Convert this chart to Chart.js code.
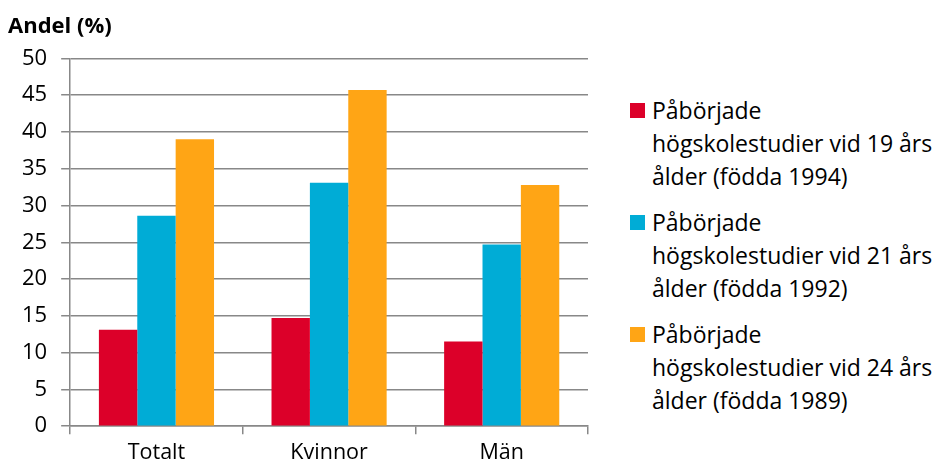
<!DOCTYPE html>
<html>
<head>
<meta charset="utf-8">
<script src="https://cdn.jsdelivr.net/npm/chart.js@4"></script>
<style>
  html, body { margin: 0; padding: 0; background: #fff; }
  #wrap { position: relative; width: 938px; height: 467px; overflow: hidden; }
  #barChart { position: absolute; left: 0; top: 0; }
  #legend { position: absolute; left: 630px; top: 94px; width: 308px;
    font-family: 'Open Sans', 'Noto Sans', sans-serif; font-size: 23px; color: #000; }
  .item { position: relative; padding-left: 22px; line-height: 33px; margin-bottom: 13px; white-space: nowrap; }
  .box { position: absolute; left: 0; top: 9px; width: 15px; height: 15px; }
</style>
</head>
<body>
<div id="wrap">
  <canvas id="barChart" width="600" height="472"></canvas>
  <div id="legend"></div>
</div>
<script>
'use strict';

const categories = ['Totalt', 'Kvinnor', 'Män'];
const born1994 = [13.1, 14.7, 11.5];
const born1992 = [28.6, 33.1, 24.7];
const born1989 = [39.0, 45.7, 32.8];
const yTicks = [0, 5, 10, 15, 20, 25, 30, 35, 40, 45, 50];

const seriesNames = [
  ['Påbörjade', 'högskolestudier vid 19 års', 'ålder (födda 1994)'],
  ['Påbörjade', 'högskolestudier vid 21 års', 'ålder (födda 1992)'],
  ['Påbörjade', 'högskolestudier vid 24 års', 'ålder (födda 1989)']
];
const colors = ['#dc0029', '#00acd6', '#ffa515'];

const font = "'Open Sans', 'Noto Sans', sans-serif";

const bar_data = {
  labels: categories,
  datasets: [born1994, born1992, born1989].map((vals, i) => ({
    label: seriesNames[i].join(' '),
    data: vals,
    backgroundColor: colors[i],
    borderWidth: 0,
    categoryPercentage: 0.667,
    barPercentage: 1.0
  }))
};

// config
const bar_config = {
  type: 'bar',
  data: bar_data,
  options: {
    responsive: false,
    animation: false,
    layout: { padding: { left: 8, right: 12, top: 14, bottom: 0 } },
    plugins: {
      legend: { display: false },
      tooltip: { enabled: false },
      title: {
        display: true,
        text: 'Andel (%)',
        align: 'start',
        color: '#000',
        font: { family: font, size: 22, weight: 'bold' },
        padding: { top: 0, bottom: 18 }
      }
    },
    scales: {
      x: {
        offset: true,
        grid: {
          offset: true,
          drawOnChartArea: false,
          drawTicks: true,
          tickLength: 8,
          color: '#888',
          lineWidth: 1.5
        },
        border: { color: '#888', width: 1.5 },
        ticks: { color: '#000', font: { family: font, size: 21.5 }, padding: 6 }
      },
      y: {
        min: 0,
        max: 50,
        afterBuildTicks: axis => { axis.ticks = yTicks.map(v => ({ value: v })); },
        grid: { color: '#888', lineWidth: 1.5, tickLength: 9 },
        border: { color: '#888', width: 1.5 },
        ticks: { color: '#000', font: { family: font, size: 22 }, padding: 14 }
      }
    }
  }
};

// render
const myBarChart = new Chart(document.getElementById('barChart'), bar_config);

// legend built from the datasets
const legendEl = document.getElementById('legend');
bar_data.datasets.forEach((ds, i) => {
  const item = document.createElement('div');
  item.className = 'item';
  const box = document.createElement('span');
  box.className = 'box';
  box.style.background = ds.backgroundColor;
  item.appendChild(box);
  seriesNames[i].forEach((line, j) => {
    if (j) item.appendChild(document.createElement('br'));
    item.appendChild(document.createTextNode(line));
  });
  legendEl.appendChild(item);
});
</script>
</body>
</html>
